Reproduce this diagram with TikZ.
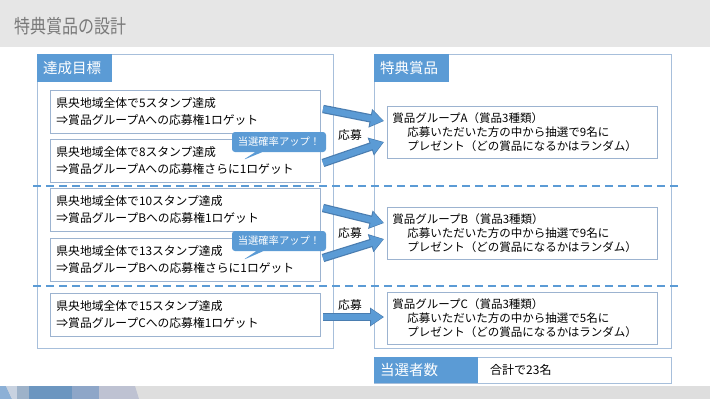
\documentclass[tikz,border=0pt]{standalone}
\usepackage{fontspec}
\setmainfont{Noto Sans CJK JP}
\usetikzlibrary{arrows.meta,shapes.callouts}
\definecolor{hdrblue}{HTML}{5B9BD5}
\definecolor{boxline}{HTML}{A7BFDB}
\definecolor{innerline}{HTML}{9CB3D0}
\definecolor{titlegray}{HTML}{E6E6E6}
\definecolor{titletext}{HTML}{7A7A7A}
\definecolor{arrowline}{HTML}{4A7DB0}
\definecolor{footgray}{HTML}{DEDEDE}
\tikzset{
  bigbox/.style={draw=boxline, line width=0.8pt, fill=white, anchor=north west, inner sep=0pt},
  hdr/.style={fill=hdrblue, anchor=north west, text=white, font=\fontsize{14.5}{16}\selectfont,
    inner xsep=6pt, inner ysep=0pt, align=left, minimum height=28pt},
  goalbox/.style={draw=innerline, line width=0.8pt, fill=white, anchor=north west, minimum width=270pt,
    minimum height=43pt, text width=258pt, inner xsep=6pt, align=left, font=\fontsize{11.8}{17}\selectfont},
  prizebox/.style={draw=innerline, line width=0.8pt, fill=white, anchor=north west, minimum width=270pt,
    minimum height=52pt, text width=260pt, inner xsep=5pt, align=left, font=\fontsize{11.5}{14}\selectfont},
  bubble/.style={rectangle callout, fill=hdrblue, rounded corners=3pt, text=white,
    font=\fontsize{10.3}{11}\selectfont, minimum width=94pt, minimum height=20pt, inner sep=0pt},
  blockout/.style={draw=arrowline, line width=8.4pt, -{Triangle[width=18pt,length=14pt]}},
  blockin/.style={draw=hdrblue, line width=6pt, -{Triangle[width=15pt,length=12pt]}, shorten >=1pt},
  applabel/.style={font=\fontsize{11.8}{13}\selectfont},
  sep/.style={draw=hdrblue, line width=1.6pt, dash pattern=on 8pt off 5pt}
}
\begin{document}
\begin{tikzpicture}[x=1pt,y=-1pt]
\useasboundingbox (0,0) rectangle (710,399);
% title bar
\fill[titlegray] (0,0) rectangle (710,47);
\node[anchor=west, text=titletext, font=\fontsize{16}{20}\selectfont, inner sep=0pt] (title) at (14,26) {\scalebox{1}[1.2]{特典賞品の設計}};
% footer
\fill[footgray] (0,386) rectangle (710,399);
\fill[color={rgb,255:red,140;green,176;blue,214}] (0,386) -- (6,386) -- (12,399) -- (0,399) -- cycle;
\fill[color={rgb,255:red,200;green,210;blue,224}] (6,386) -- (17,386) -- (17,399) -- (12,399) -- cycle;
\fill[color={rgb,255:red,157;green,178;blue,201}] (17,386) rectangle (29,399);
\fill[color={rgb,255:red,108;green,150;blue,192}] (29,386) rectangle (72,399);
\fill[color={rgb,255:red,142;green,166;blue,200}] (72,386) rectangle (99,399);
\fill[color={rgb,255:red,190;green,194;blue,210}] (99,386) -- (135,386) -- (139,399) -- (99,399) -- cycle;
% big boxes
\node[bigbox, minimum width=296pt, minimum height=294pt] (left) at (37,54) {};
\node[bigbox, minimum width=297pt, minimum height=294pt] (right) at (374,54) {};
\node[hdr, text width=63pt] (lhdr) at (37,54) {達成目標};
\node[hdr, text width=63pt] (rhdr) at (374,54) {特典賞品};
% separators
\coordinate (s1l) at (33,186); \coordinate (s1r) at (681,186);
\coordinate (s2l) at (33,286); \coordinate (s2r) at (681,286);
\draw[sep] (s1l) -- (s1r);
\draw[sep] (s2l) -- (s2r);
% goal boxes
\node[goalbox] (g1) at (50,90) {県央地域全体で5スタンプ達成\\⇒賞品グループAへの応募権1ロゲット};
\node[goalbox] (g2) at (50,139) {県央地域全体で8スタンプ達成\\⇒賞品グループAへの応募権さらに1ロゲット};
\node[goalbox] (g3) at (50,188) {県央地域全体で10スタンプ達成\\⇒賞品グループBへの応募権1ロゲット};
\node[goalbox] (g4) at (50,238) {県央地域全体で13スタンプ達成\\⇒賞品グループBへの応募権さらに1ロゲット};
\node[goalbox] (g5) at (50,293) {県央地域全体で15スタンプ達成\\⇒賞品グループCへの応募権1ロゲット};
% prize boxes
\node[prizebox] (pa) at (387,106) {賞品グループA（賞品3種類）\\\hspace*{15pt}応募いただいた方の中から抽選で9名に\\\hspace*{15pt}プレゼント（どの賞品になるかはランダム）};
\node[prizebox] (pb) at (387,207) {賞品グループB（賞品3種類）\\\hspace*{15pt}応募いただいた方の中から抽選で9名に\\\hspace*{15pt}プレゼント（どの賞品になるかはランダム）};
\node[prizebox] (pc) at (387,292) {賞品グループC（賞品3種類）\\\hspace*{15pt}応募いただいた方の中から抽選で5名に\\\hspace*{15pt}プレゼント（どの賞品になるかはランダム）};
% callouts
\coordinate (t1) at (243,160);
\coordinate (t2) at (243,260);
\node[bubble, callout absolute pointer={(t1)}] (c1) at (279,142) {当選確率アップ！};
\node[bubble, callout absolute pointer={(t2)}] (c2) at (279,241) {当選確率アップ！};
% arrows
\coordinate (a1s) at (323,109); \coordinate (a1e) at (384,121);
\coordinate (a2s) at (323,163); \coordinate (a2e) at (384,142);
\coordinate (b1s) at (323,208); \coordinate (b1e) at (384,223);
\coordinate (b2s) at (323,258); \coordinate (b2e) at (384,239);
\coordinate (cs) at (323,317);  \coordinate (ce) at (384,317);
\foreach \s/\e in {a1s/a1e,a2s/a2e,b1s/b1e,b2s/b2e,cs/ce}{
  \draw[blockout] (\s) -- (\e);
  \draw[blockin] (\s) -- (\e);
}
\node[applabel] (la) at (350,135) {応募};
\node[applabel] (lb) at (350,233) {応募};
\node[applabel] (lc) at (350,305) {応募};
% total
\node[bigbox, minimum width=297pt, minimum height=26pt] (tot) at (374,357) {};
\node[hdr, minimum height=26pt, text width=92pt] (thdr) at (374,357) {当選者数};
\node[anchor=west, font=\fontsize{12}{13}\selectfont, inner sep=0pt] (ttext) at (490,370) {合計で23名};
\end{tikzpicture}
\end{document}
